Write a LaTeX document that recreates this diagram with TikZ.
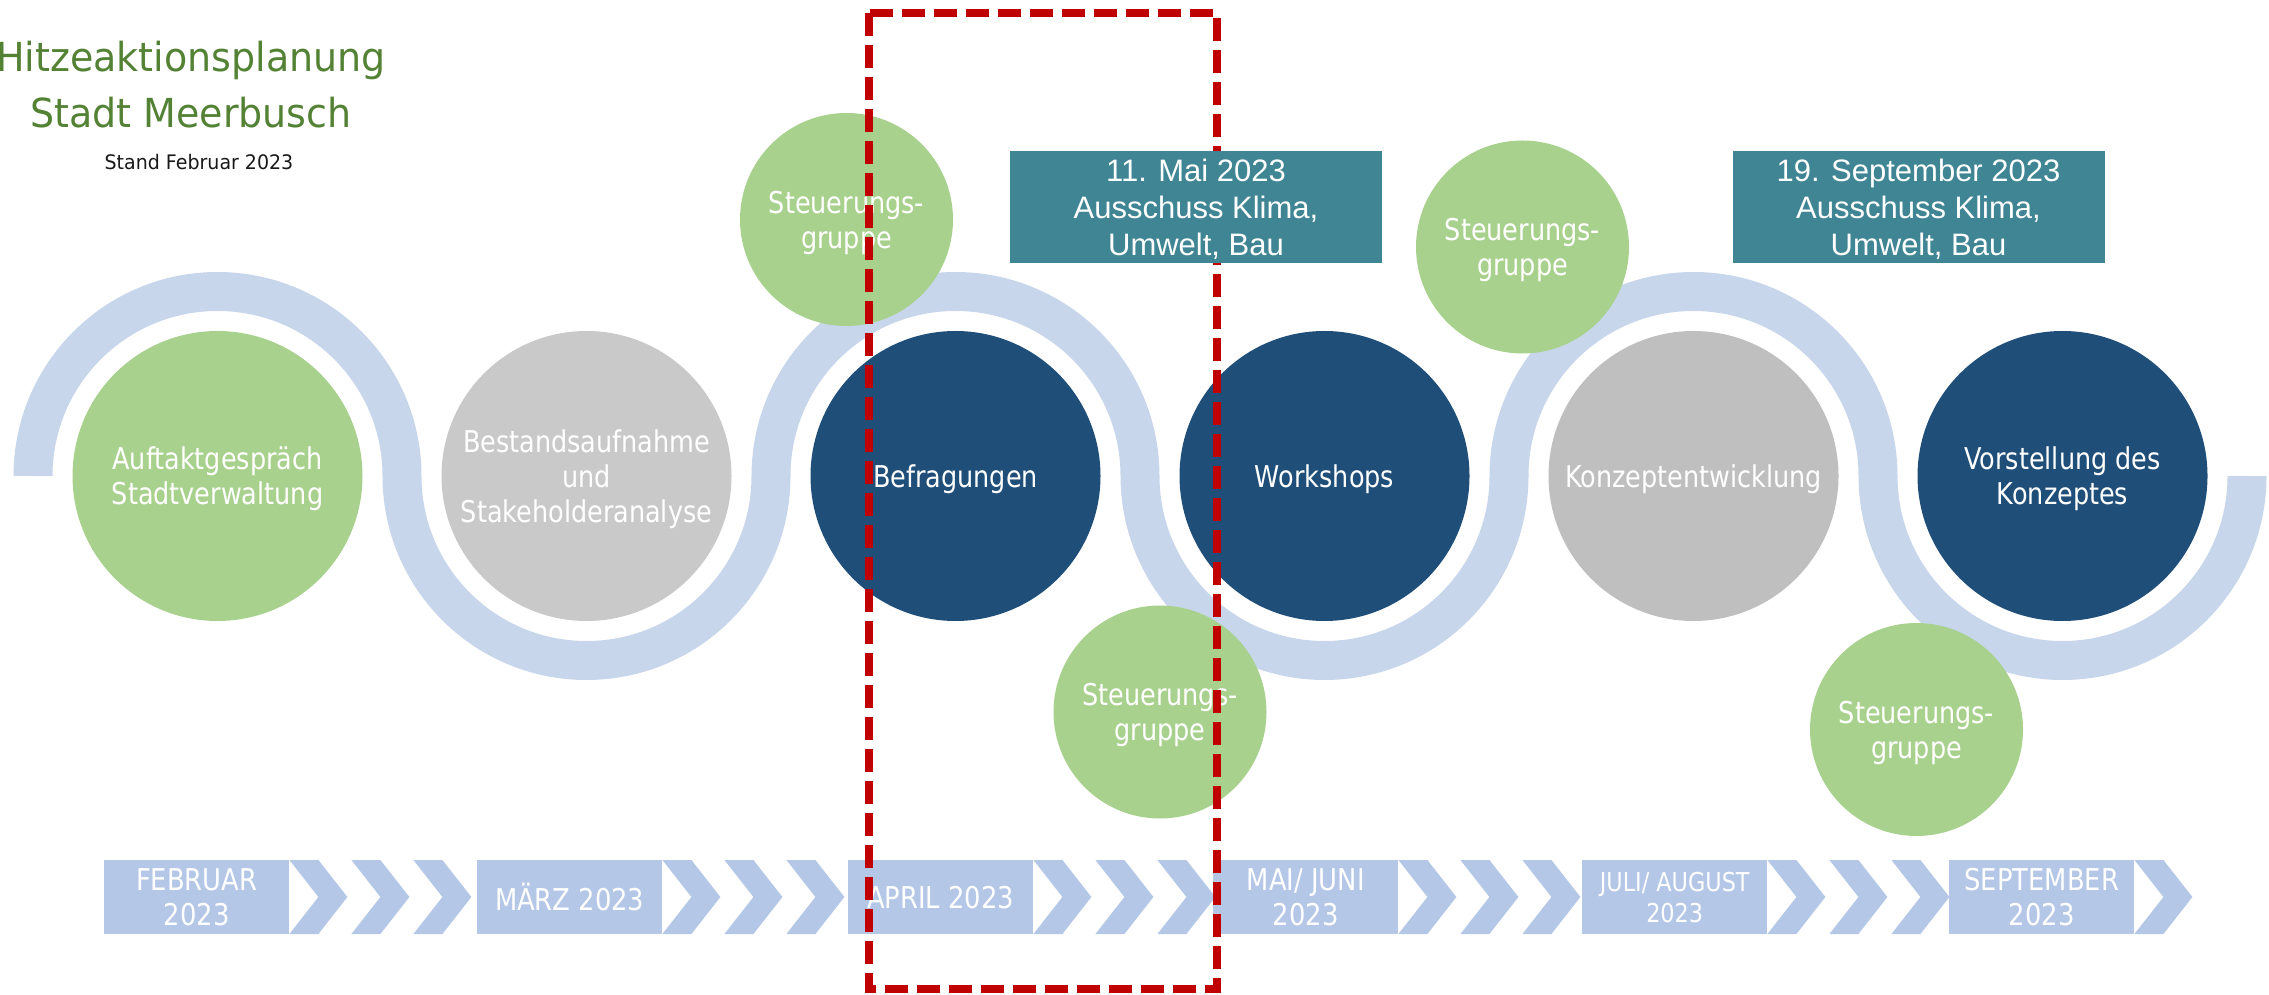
\documentclass[tikz,border=0pt]{standalone}
\usepackage{fontspec}
\newfontfamily\labelfont[FakeStretch=0.85]{DejaVu Sans}
\newfontfamily\monthfont[FakeStretch=0.86]{DejaVu Sans}
\newfontfamily\headfont[FakeStretch=0.95]{DejaVu Sans}
\newfontfamily\datefont{Liberation Sans}

\definecolor{bandblue}{HTML}{C8D6EC}
\definecolor{leafgreen}{HTML}{A9D18E}
\definecolor{lightgrey}{HTML}{C9C9C9}
\definecolor{midgrey}{HTML}{BFBFBF}
\definecolor{navy}{HTML}{1F4E79}
\definecolor{petrol}{HTML}{408594}
\definecolor{monthblue}{HTML}{B4C7E7}
\definecolor{titlegreen}{HTML}{548235}
\definecolor{markred}{HTML}{C00000}

\tikzset{
  band/.style={draw=bandblue, line width=39pt, line cap=butt},
  phase/.style={circle, inner sep=0pt, minimum size=290pt, text=white,
    align=center, text depth=0pt, font=\labelfont\fontsize{30}{35}\selectfont},
  meeting/.style={circle, inner sep=0pt, minimum size=213pt, fill=leafgreen,
    text=white, align=center, text depth=0pt, font=\labelfont\fontsize{30}{35}\selectfont},
  datebox/.style={rectangle, inner sep=0pt, minimum width=372pt, minimum height=112pt,
    fill=petrol, text=white, align=center, text depth=0pt,
    font=\datefont\fontsize{31}{37}\selectfont},
  monthbox/.style={rectangle, inner sep=0pt, minimum width=185pt, minimum height=74pt,
    fill=monthblue, text=white, align=center, text depth=0pt, anchor=west,
    font=\monthfont\fontsize{30}{35}\selectfont},
  chev/.pic={\fill[monthblue] (0,37) -- (29,37) -- (58,0) -- (29,-37) -- (0,-37) -- (29,0) -- cycle;},
  frame/.style={draw=markred, line width=8pt, dash pattern=on 23pt off 9pt},
  headline/.style={anchor=base, text=titlegreen, font=\headfont\fontsize{40}{48}\selectfont},
}

\begin{document}
\begin{tikzpicture}[x=1pt, y=1pt]
\useasboundingbox (0,0) rectangle (2269,994);

% title block
\node[headline] (title1) at (191,922) {Hitzeaktionsplanung};
\node[headline] (title2) at (191,866) {Stadt Meerbusch};
\node[anchor=base, text=black!90, font=\headfont\fontsize{20}{24}\selectfont] (stand) at (199,824) {Stand Februar 2023};

% winding band behind the phases
\coordinate (bandstart) at (33,518);
\draw[band] (bandstart)
  arc[start angle=180, end angle=0,   radius=184.5]
  arc[start angle=180, end angle=360, radius=184.5]
  arc[start angle=180, end angle=0,   radius=184.5]
  arc[start angle=180, end angle=360, radius=184.5]
  arc[start angle=180, end angle=0,   radius=184.5]
  arc[start angle=180, end angle=360, radius=184.5] coordinate (bandend);

% project phases
\node[phase, fill=leafgreen]  (p1) at (217.5,518)  {Auftaktgespräch\\Stadtverwaltung};
\node[phase, fill=lightgrey]  (p2) at (586.5,518)  {Bestandsaufnahme\\und\\Stakeholderanalyse};
\node[phase, fill=navy]       (p3) at (955.5,518)  {Befragungen};
\node[phase, fill=navy]       (p4) at (1324.5,518) {Workshops};
\node[phase, fill=midgrey]    (p5) at (1693.5,518) {Konzeptentwicklung};
\node[phase, fill=navy]       (p6) at (2062.5,518) {Vorstellung des\\Konzeptes};

% steering group meetings
\node[meeting] (sg1) at (846.5,774.5) {Steuerungs-\\gruppe};
\node[meeting] (sg2) at (1160,282)    {Steuerungs-\\gruppe};
\node[meeting] (sg3) at (1522.5,747)  {Steuerungs-\\gruppe};
\node[meeting] (sg4) at (1916.5,264.5){Steuerungs-\\gruppe};

% month timeline
\node[monthbox] (m1) at (104,97)  {FEBRUAR\\2023};
\node[monthbox] (m2) at (477,97)  {MÄRZ 2023};
\node[monthbox] (m3) at (848,97)  {APRIL 2023};
\node[monthbox] (m4) at (1213,97) {MAI/ JUNI\\2023};
\node[monthbox, font=\monthfont\fontsize{26}{31}\selectfont] (m5) at (1582,97) {JULI/ AUGUST\\2023};
\node[monthbox] (m6) at (1949,97) {SEPTEMBER\\2023};
\foreach \m in {m1,m2,m3,m4,m5}{
  \pic at ([xshift=0pt]\m.east) {chev};
  \pic at ([xshift=62pt]\m.east) {chev};
  \pic at ([xshift=124pt]\m.east) {chev};
}
\pic at (m6.east) {chev};

% highlighted month
\draw[frame] (869,981) rectangle (1217,5);

% committee dates
\node[datebox] (d1) at (1196,787) {11. Mai 2023\\Ausschuss Klima,\\Umwelt, Bau};
\node[datebox] (d2) at (1918.5,787) {19. September 2023\\Ausschuss Klima,\\Umwelt, Bau};
\end{tikzpicture}
\end{document}
